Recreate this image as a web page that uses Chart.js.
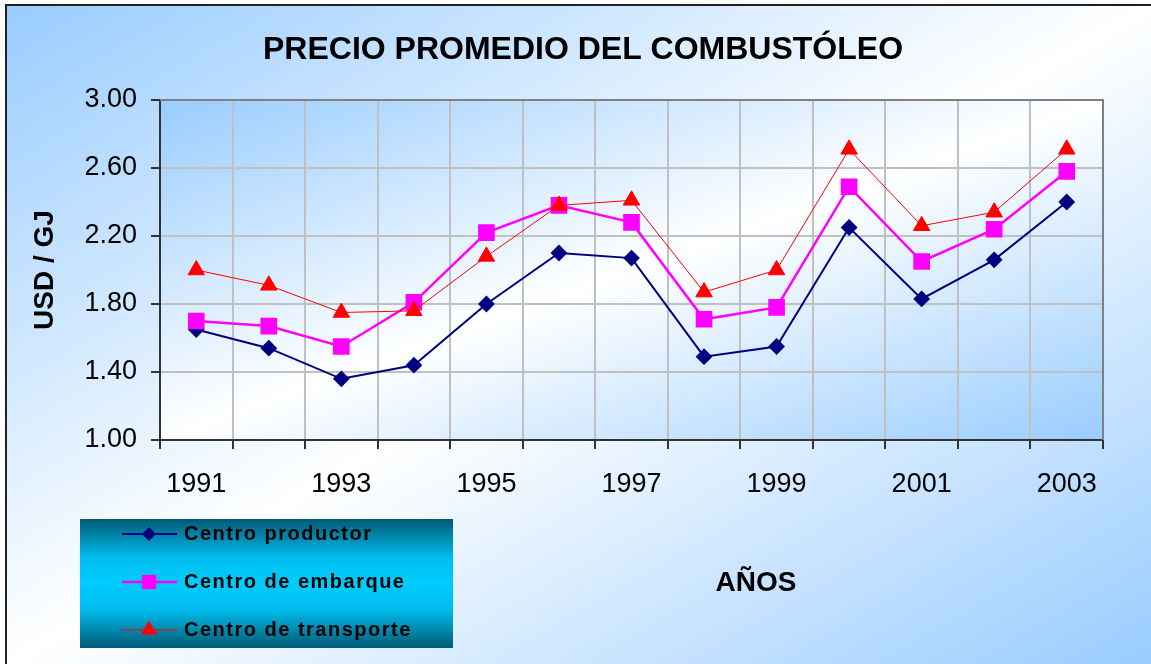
<!DOCTYPE html>
<html>
<head>
<meta charset="utf-8">
<title>Precio promedio del combustóleo</title>
<script src="https://cdn.jsdelivr.net/npm/chart.js@4/dist/chart.umd.min.js"></script>
<style>
  body { margin: 0; background: #fff; }
  canvas { display: block; }
</style>
</head>
<body>
<canvas id="fuelChart" width="1151" height="664"></canvas>
<script>
const FONT = "'Liberation Sans', Arial, sans-serif";

// data (USD / GJ)
const years = ['1991', '1992', '1993', '1994', '1995', '1996', '1997', '1998', '1999', '2000', '2001', '2002', '2003'];
const productor = [1.65, 1.54, 1.36, 1.44, 1.80, 2.10, 2.07, 1.49, 1.55, 2.25, 1.83, 2.06, 2.40];
const embarque = [1.70, 1.67, 1.55, 1.81, 2.22, 2.38, 2.28, 1.71, 1.78, 2.49, 2.05, 2.24, 2.58];
const transporte = [2.00, 1.91, 1.75, 1.76, 2.08, 2.38, 2.41, 1.87, 2.00, 2.71, 2.26, 2.34, 2.71];
const seriesNames = ['Centro productor', 'Centro de embarque', 'Centro de transporte'];

const yMin = 1.0;
const yMax = 3.0;
const yStep = 0.4;

// gradient going corner to corner (like "to bottom right" in css)
function diagGradient(c, x, y, w, h, edge, mid) {
  const len = Math.sqrt(w * w + h * h);
  const dx = h / len, dy = w / len;
  const half = w * h / len;
  const cx = x + w / 2, cy = y + h / 2;
  const g = c.createLinearGradient(cx - dx * half, cy - dy * half, cx + dx * half, cy + dy * half);
  g.addColorStop(0, edge);
  g.addColorStop(0.5, mid);
  g.addColorStop(1, edge);
  return g;
}

function drawMarker(c, style, x, y, r, color) {
  c.fillStyle = color;
  c.beginPath();
  if (style === 'rectRot') {
    c.moveTo(x, y - r); c.lineTo(x + r, y); c.lineTo(x, y + r); c.lineTo(x - r, y);
  } else if (style === 'rect') {
    const s = r * Math.SQRT1_2;
    c.rect(x - s, y - s, 2 * s, 2 * s);
  } else {
    c.moveTo(x, y - r);
    c.lineTo(x + r * Math.sin(2 * Math.PI / 3), y - r * Math.cos(2 * Math.PI / 3));
    c.lineTo(x - r * Math.sin(2 * Math.PI / 3), y - r * Math.cos(2 * Math.PI / 3));
  }
  c.closePath();
  c.fill();
}

const backdrop = {
  id: 'backdrop',
  beforeDraw(chart) {
    const c = chart.ctx;
    const a = chart.chartArea;
    c.save();
    c.fillStyle = '#fff';
    c.fillRect(0, 0, chart.width, chart.height);
    c.fillStyle = diagGradient(c, 7, 6, chart.width - 7, chart.height - 6, '#99ccff', '#ffffff');
    c.fillRect(7, 6, chart.width - 7, chart.height - 6);
    // frame (only left and top edges are inside the picture)
    c.fillStyle = '#222';
    c.fillRect(5, 4, 2, chart.height - 4);
    c.fillRect(5, 4, chart.width - 5, 2);
    // plot area
    c.fillStyle = diagGradient(c, a.left, a.top, a.right - a.left, a.bottom - a.top, '#99ccff', '#ffffff');
    c.fillRect(a.left, a.top, a.right - a.left, a.bottom - a.top);
    c.restore();
  },
  beforeDatasetsDraw(chart) {
    const c = chart.ctx;
    const a = chart.chartArea;
    c.save();
    c.strokeStyle = '#808080';
    c.lineWidth = 2;
    c.beginPath();
    c.moveTo(a.left, a.top);
    c.lineTo(a.right, a.top);
    c.lineTo(a.right, a.bottom);
    c.stroke();
    c.restore();
  }
};

const extras = {
  id: 'extras',
  afterDraw(chart) {
    const c = chart.ctx;
    c.save();
    // title
    c.fillStyle = '#000';
    c.textAlign = 'center';
    c.textBaseline = 'middle';
    c.font = 'bold 32px ' + FONT;
    c.fillText('PRECIO PROMEDIO DEL COMBUSTÓLEO', 583, 50);
    // x axis caption, sits to the right of the legend
    c.font = 'bold 28px ' + FONT;
    c.fillText('AÑOS', 756, 583);

    // legend box
    const lx = 80, ly = 519, lw = 373, lh = 129;
    const g = c.createLinearGradient(0, ly, 0, ly + lh);
    g.addColorStop(0, '#005a75');
    g.addColorStop(0.3, '#00bdee');
    g.addColorStop(0.5, '#00ccff');
    g.addColorStop(0.7, '#00bdee');
    g.addColorStop(1, '#005a75');
    c.fillStyle = g;
    c.fillRect(lx, ly, lw, lh);

    const rows = [534, 582, 630];
    c.textAlign = 'left';
    c.font = 'bold 20px ' + FONT;
    c.letterSpacing = '1.5px';
    chart.data.datasets.forEach((ds, i) => {
      const y = rows[i];
      c.strokeStyle = ds.borderColor;
      c.lineWidth = ds.borderWidth;
      c.beginPath();
      c.moveTo(122, y);
      c.lineTo(177, y);
      c.stroke();
      drawMarker(c, ds.pointStyle, 149, y, ds.pointRadius, ds.backgroundColor);
      c.fillStyle = '#000';
      c.fillText(ds.label, 184, y);
    });
    c.restore();
  }
};

const ctx = document.getElementById('fuelChart').getContext('2d');

const fuelChart = new Chart(ctx, {
  type: 'line',
  data: {
    labels: years,
    datasets: [
      {
        label: seriesNames[0],
        data: productor,
        borderColor: '#000080',
        backgroundColor: '#000080',
        borderWidth: 2,
        pointStyle: 'rectRot',
        pointRadius: 7,
        pointHoverRadius: 7,
        order: 2
      },
      {
        label: seriesNames[1],
        data: embarque,
        borderColor: '#ff00ff',
        backgroundColor: '#ff00ff',
        borderWidth: 2.5,
        pointStyle: 'rect',
        pointRadius: 10,
        pointHoverRadius: 10,
        order: 1
      },
      {
        label: seriesNames[2],
        data: transporte,
        borderColor: '#ff0000',
        backgroundColor: '#ff0000',
        borderWidth: 1,
        pointStyle: 'triangle',
        pointRadius: 9.5,
        pointHoverRadius: 9.5,
        order: 0
      }
    ]
  },
  options: {
    responsive: false,
    animation: false,
    events: [],
    layout: { padding: { left: 0, top: 100, right: 48, bottom: 0 } },
    plugins: {
      legend: { display: false },
      tooltip: { enabled: false }
    },
    scales: {
      x: {
        offset: true,
        grid: { offset: true, color: '#c0c0c0', lineWidth: 2, tickColor: '#333', tickLength: 9 },
        border: { color: '#333', width: 2 },
        ticks: {
          autoSkip: false,
          maxRotation: 0,
          padding: 19,
          color: '#000',
          font: { family: FONT, size: 27 },
          callback: function (v, i) {
            return i % 2 === 0 ? this.getLabelForValue(v) : '';
          }
        },
        afterFit: (s) => { s.height = 224; }
      },
      y: {
        min: yMin,
        max: yMax,
        grid: { color: '#c0c0c0', lineWidth: 2, tickColor: '#333', tickLength: 9 },
        border: { color: '#333', width: 2 },
        ticks: {
          stepSize: yStep,
          padding: 14,
          color: '#000',
          font: { family: FONT, size: 27 },
          callback: (v) => Number(v).toFixed(2)
        },
        title: {
          display: true,
          text: 'USD / GJ',
          color: '#000',
          font: { family: FONT, size: 28, weight: 'bold' },
          padding: { top: 28, bottom: 0 }
        },
        afterFit: (s) => { s.width = 160; }
      }
    }
  },
  plugins: [backdrop, extras]
});
</script>
</body>
</html>
